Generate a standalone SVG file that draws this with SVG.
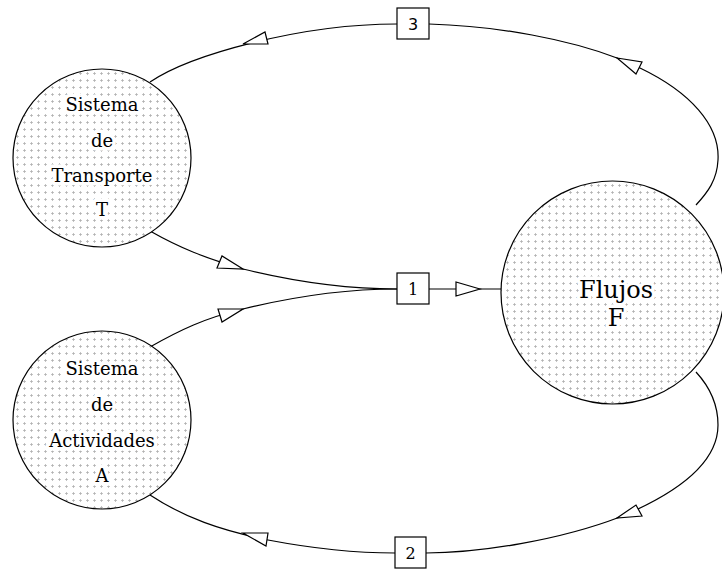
<svg xmlns="http://www.w3.org/2000/svg" width="722" height="569" viewBox="0 0 722 569">
<style>
.node circle{fill:url(#plus);stroke:#000;stroke-width:1.2}
.lbl{font-family:"DejaVu Serif","Liberation Serif",serif;font-size:18px;text-anchor:middle;fill:#000;stroke:#fff;stroke-width:7;stroke-linejoin:round;paint-order:stroke}
.big{font-size:24px}
.edge{fill:none;stroke:#000;stroke-width:1.2}
.arr{fill:#fff;stroke:#000;stroke-width:1.2;stroke-linejoin:miter}
.box rect{fill:#fff;stroke:#000;stroke-width:1.2}
.box text{font-family:"DejaVu Serif","Liberation Serif",serif;font-size:16px;text-anchor:middle;fill:#000}
</style>
<defs>
<pattern id="plus" width="7" height="7" patternUnits="userSpaceOnUse">
<rect width="7" height="7" fill="#fff"/>
<path d="M2,3.5h3M3.5,2v3" stroke="#aaa" stroke-width="0.7"/>
</pattern>
</defs>
<rect width="722" height="569" fill="#fff"/>
<g id="connectors">
<path class="edge" d="M150,82 C190,55 300,24 397,24"/>
<path class="edge" d="M429,24 C500,26 570,40 617,58 L640,68 C690,92 720,125 718,160 C717,180 708,192 696,205"/>
<path class="edge" d="M696,372 C708,385 718,402 718,425 C718,462 680,492 620,517 C560,540 480,553 426,553"/>
<path class="edge" d="M150,495 C185,518 220,530 268,540 C310,548 350,553 395,553"/>
<path class="edge" d="M150,231 C180,248 205,258 243,269 C300,283 350,289 397,289"/>
<path class="edge" d="M150,347 C180,330 205,318 243,309 C300,295 350,289 397,289"/>
<path class="edge" d="M429,289 H501"/>
<polygon class="arr" points="243,44 265,32 268,44"/>
<polygon class="arr" points="617,58 642,62 636,74"/>
<polygon class="arr" points="617,518 636,505 642,516"/>
<polygon class="arr" points="243,533 268,533 266,546"/>
<polygon class="arr" points="243,269 222,256 217,268"/>
<polygon class="arr" points="243,309 218,309 222,322"/>
<polygon class="arr" points="480,289 456,282 456,296"/>
</g>
<g id="T" class="node">
<circle cx="102" cy="158" r="89"/>
<text class="lbl" x="102" y="111">Sistema</text>
<text class="lbl" x="102" y="147">de</text>
<text class="lbl" x="102" y="182">Transporte</text>
<text class="lbl" x="102" y="216">T</text>
</g>
<g id="A" class="node">
<circle cx="102" cy="420" r="89"/>
<text class="lbl" x="102" y="375">Sistema</text>
<text class="lbl" x="102" y="411">de</text>
<text class="lbl" x="102" y="447">Actividades</text>
<text class="lbl" x="102" y="482">A</text>
</g>
<g id="F" class="node">
<circle cx="612.5" cy="292.5" r="111.5"/>
<text class="lbl big" x="616" y="298">Flujos</text>
<text class="lbl big" x="616" y="326">F</text>
</g>
<g id="box1" class="box">
<rect x="397" y="273" width="32" height="31"/>
<text x="413" y="295">1</text>
</g>
<g id="box3" class="box">
<rect x="397" y="8" width="32" height="31"/>
<text x="413" y="30" style="font-family:'DejaVu Sans','Liberation Sans',sans-serif">3</text>
</g>
<g id="box2" class="box">
<rect x="395" y="537" width="31" height="31"/>
<text x="410.5" y="559">2</text>
</g>
</svg>
